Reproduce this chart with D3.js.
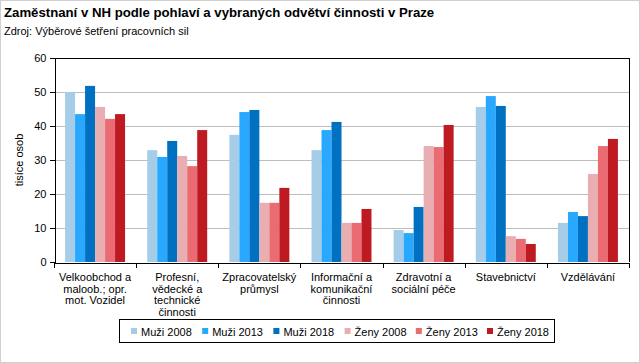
<!DOCTYPE html>
<meta charset="utf-8">
<style>
    body { margin: 0; }
    svg { font-family: "Liberation Sans", Arial, sans-serif; }
    .axis path, .axis line { stroke: black; shape-rendering: crispEdges; }
    .grid line { stroke: #bebebe; shape-rendering: crispEdges; }
</style>
<body>
<script src="https://cdn.jsdelivr.net/npm/d3@7"></script>
<script>
    // data
    const categories = [
        ["Velkoobchod a", "maloob.; opr.", "mot. Vozidel"],
        ["Profesní,", "vědecké a", "technické", "činnosti"],
        ["Zpracovatelský", "průmysl"],
        ["Informační a", "komunikační", "činnosti"],
        ["Zdravotní a", "sociální péče"],
        ["Stavebnictví"],
        ["Vzdělávání"]
    ];
    const seriesNames = ["Muži 2008", "Muži 2013", "Muži 2018", "Ženy 2008", "Ženy 2013", "Ženy 2018"];
    const seriesColors = ["#a6cde8", "#29a8ff", "#0070c0", "#e8aeb2", "#ea6b72", "#be1a22"];
    const muzi2008 = [50.0, 32.9, 37.4, 32.9, 9.4, 45.6, 11.5];
    const muzi2013 = [43.5, 30.9, 44.1, 38.8, 8.5, 48.8, 14.7];
    const muzi2018 = [51.8, 35.6, 44.7, 41.2, 16.2, 45.9, 13.5];
    const zeny2008 = [45.6, 31.2, 17.4, 11.5, 34.1, 7.6, 25.9];
    const zeny2013 = [42.1, 28.2, 17.4, 11.5, 33.8, 6.8, 34.1];
    const zeny2018 = [43.5, 38.8, 21.8, 15.6, 40.3, 5.3, 36.2];
    const yTicks = [0, 10, 20, 30, 40, 50, 60];

    const series = [muzi2008, muzi2013, muzi2018, zeny2008, zeny2013, zeny2018];

    const width = 640, height = 363;
    const plot = {left: 54, right: 629, top: 58, bottom: 262};

    const svg = d3.select("body").append("svg")
        .attr("width", width)
        .attr("height", height);

    // outer frame
    svg.append("rect")
        .attr("x", 0.5).attr("y", 0.5)
        .attr("width", width - 1).attr("height", height - 1)
        .style("fill", "white").style("stroke", "#d0d0d0");

    svg.append("text")
        .attr("x", 4).attr("y", 17)
        .style("font-size", "13.2px").style("font-weight", "bold")
        .text("Zaměstnaní v NH podle pohlaví a vybraných odvětví činnosti v Praze");

    svg.append("text")
        .attr("x", 4).attr("y", 35)
        .style("font-size", "11px")
        .text("Zdroj: Výběrové šetření pracovních sil");

    const x0 = d3.scaleBand()
        .domain(d3.range(categories.length))
        .range([plot.left, plot.right])
        .paddingInner(0.27).paddingOuter(0.135);

    const x1 = d3.scaleBand()
        .domain(d3.range(series.length))
        .range([0, x0.bandwidth()]);

    const y = d3.scaleLinear().domain([0, 60]).range([plot.bottom, plot.top]);

    // grid lines
    svg.append("g").attr("class", "grid")
        .selectAll("line")
        .data(yTicks.filter(d => d > 0 && d < 60))
        .enter().append("line")
        .attr("x1", plot.left).attr("x2", plot.right)
        .attr("y1", d => Math.round(y(d)) + 0.5).attr("y2", d => Math.round(y(d)) + 0.5);

    // bars
    const groups = svg.append("g").selectAll("g")
        .data(categories.map((c, i) => i))
        .enter().append("g")
        .attr("transform", i => "translate(" + x0(i) + ",0)");

    groups.selectAll("rect")
        .data(i => series.map((s, k) => ({k: k, v: s[i]})))
        .enter().append("rect")
        .attr("x", d => x1(d.k))
        .attr("width", x1.bandwidth())
        .attr("y", d => y(d.v))
        .attr("height", d => y(0) - y(d.v))
        .style("fill", d => seriesColors[d.k]);

    // frame top / right
    svg.append("path")
        .attr("d", "M" + plot.left + "," + (plot.top + 0.5) + "H" + (plot.right + 0.5) + "V" + plot.bottom)
        .style("fill", "none").style("stroke", "black").style("shape-rendering", "crispEdges");

    // y axis
    const yAxis = svg.append("g").attr("class", "axis")
        .attr("transform", "translate(" + (plot.left + 0.5) + ",0)")
        .call(d3.axisLeft(y).tickValues(yTicks).tickSize(5).tickSizeOuter(0));
    yAxis.selectAll("text").style("font-size", "11px").attr("x", -8).style("font-family", "Liberation Sans, Arial, sans-serif");

    // x axis: ticks at category boundaries
    const xb = d3.scaleLinear().domain([0, categories.length]).range([plot.left, plot.right]);
    svg.append("g").attr("class", "axis")
        .attr("transform", "translate(0," + (plot.bottom + 0.5) + ")")
        .call(d3.axisBottom(xb).ticks(categories.length).tickFormat("").tickSize(5).tickSizeOuter(0));

    // category labels
    const labels = svg.append("g")
        .style("font-size", "11px")
        .attr("text-anchor", "middle");
    categories.forEach((lines, i) => {
        const t = labels.append("text")
            .attr("x", x0(i) + x0.bandwidth() / 2)
            .attr("y", 281);
        lines.forEach((l, j) => {
            t.append("tspan")
                .attr("x", x0(i) + x0.bandwidth() / 2)
                .attr("dy", j === 0 ? 0 : 11.5)
                .text(l);
        });
    });

    // y label
    svg.append("text")
        .attr("transform", "translate(23," + ((plot.top + plot.bottom) / 2) + ") rotate(-90)")
        .attr("text-anchor", "middle")
        .style("font-size", "11px")
        .text("tisíce osob");

    // legend
    const legend = svg.append("g");
    legend.append("rect")
        .attr("x", 119.5).attr("y", 319.5)
        .attr("width", 435).attr("height", 23)
        .style("fill", "white").style("stroke", "black");

    const item = legend.selectAll(".legend")
        .data(seriesNames)
        .enter().append("g")
        .attr("class", "legend")
        .attr("transform", (d, i) => "translate(" + (131 + i * 71.2) + ",328)");

    item.append("rect")
        .attr("width", 6).attr("height", 6)
        .style("fill", (d, i) => seriesColors[i]);

    item.append("text")
        .attr("x", 10).attr("y", 7.5)
        .style("font-size", "11px")
        .text(d => d);
</script>
</body>
</html>
